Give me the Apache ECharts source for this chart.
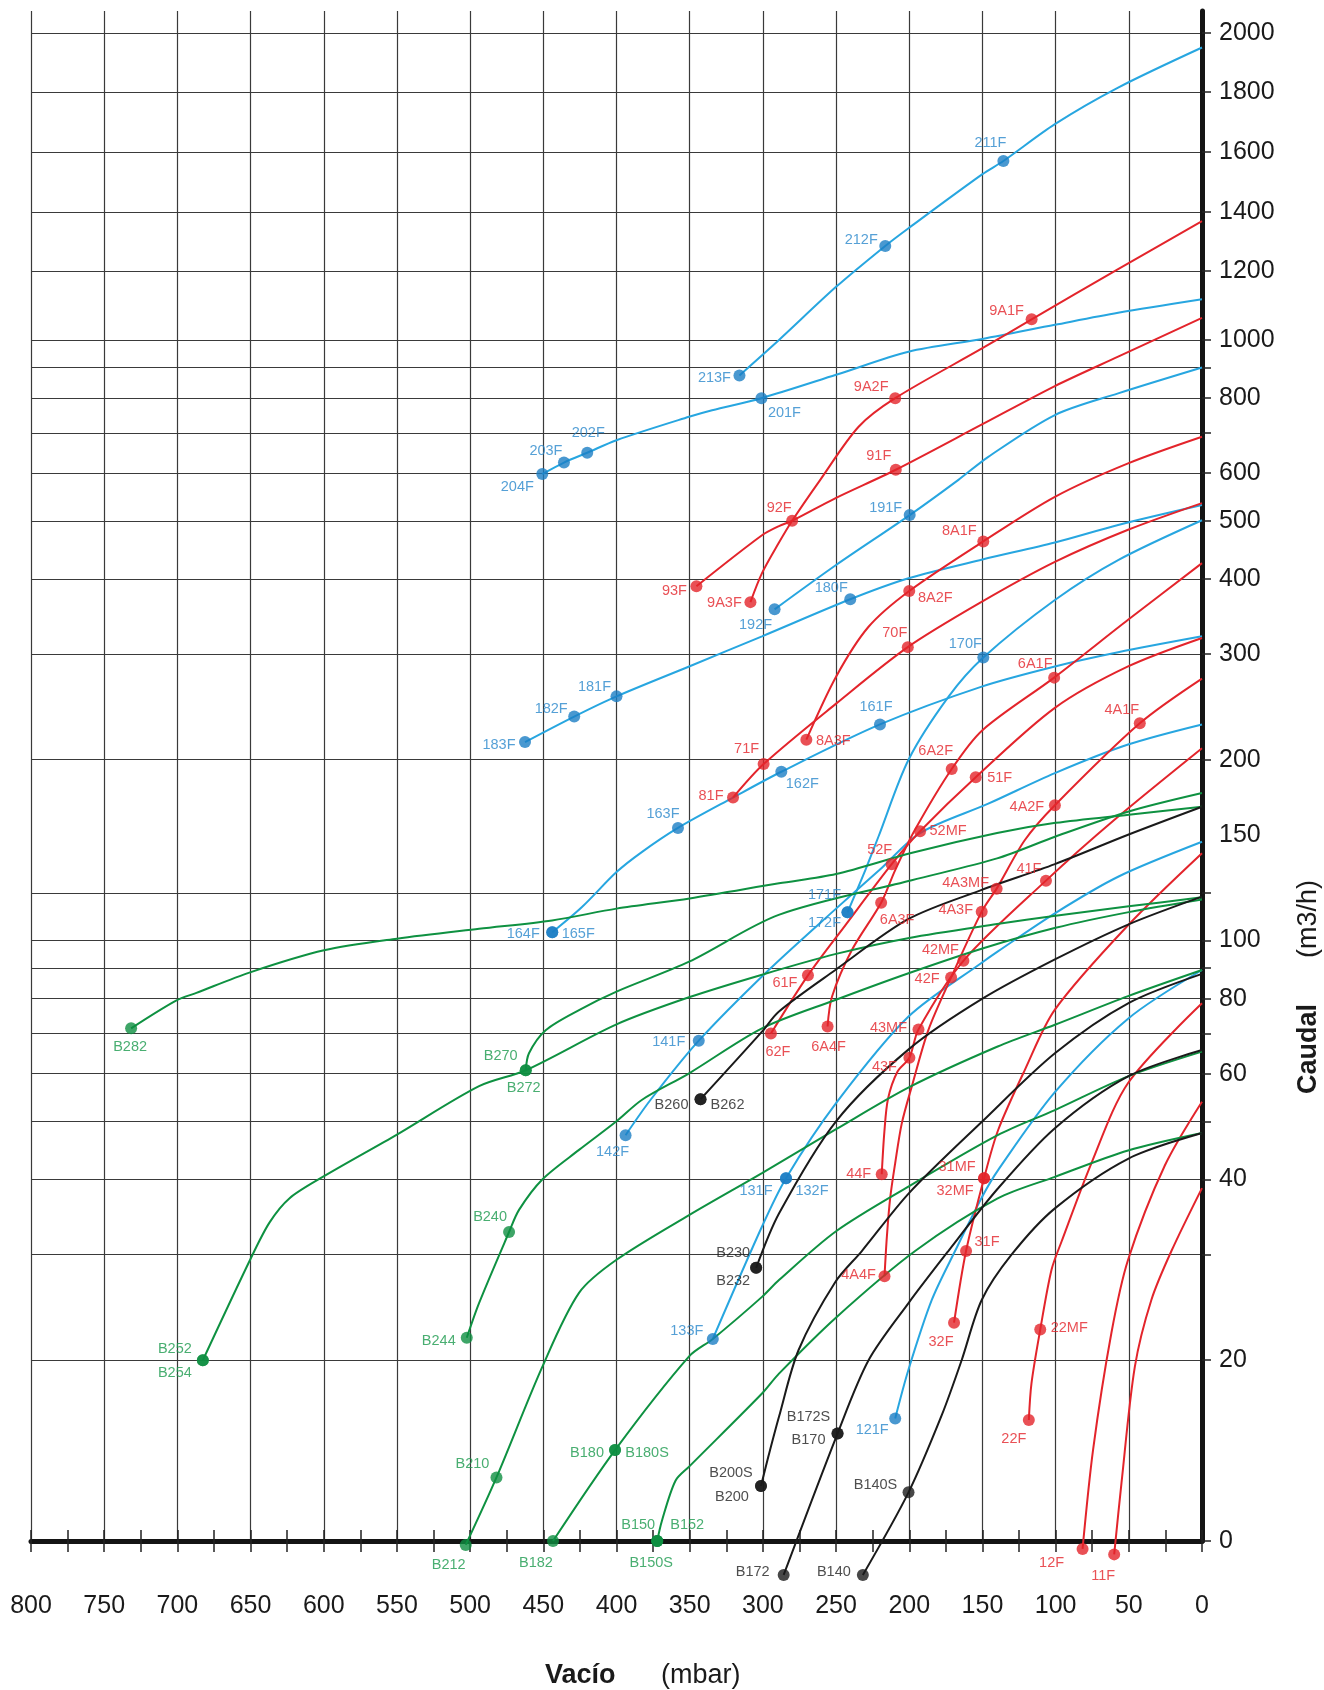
<!DOCTYPE html>
<html><head><meta charset="utf-8">
<script src="https://cdn.jsdelivr.net/npm/echarts@6/dist/echarts.min.js"></script>
<style>html,body{margin:0;padding:0;background:#fff}#c{width:1324px;height:1690px}</style>
</head><body><div id="c"></div>
<script>
// ================= DATA: [vacuum (mbar), flow (m3/h)] =================
// blue family
const c211 = [[316,873],[289,1000],[250,1154],[216.4,1285],[200.5,1345],[150,1526],[135.7,1570],[100.5,1693],[57.3,1815],[0,1951]];
const c201 = [[450.7,598],[435.9,625],[420,649],[400,681],[350.4,745],[334.7,764],[301,800],[250,875],[200.5,956],[150,1003],[100.5,1044],[57.3,1079],[0,1118]];
const c191 = [[292,356],[250,422],[199.7,511],[166.4,585],[146,639],[100.5,750],[57.3,815],[0,900]];
const c180 = [[462.5,214],[428.9,236],[400,255],[350.4,286],[300.6,321],[240.3,370],[200.5,401],[150,431],[100.5,460],[57.3,492],[0,531]];
const c170 = [[242.2,111.4],[230,131],[221,149],[200.5,200],[173,255],[149.4,296],[100.5,369],[57.3,430],[0,501]];
const c160 = [[443.9,103.2],[423.4,113.8],[400,130],[382.5,140.5],[358,154],[320.4,173],[287.4,191],[220,229],[150,265],[100.5,286],[57.3,302],[0,321]];
const c140 = [[393.8,47.4],[376.7,54.3],[343.8,68.1],[296,89.3],[250,113],[220.4,131],[192.6,151],[146,169],[100.5,190],[50.5,212],[0,229]];
const c130 = [[334.2,21.7],[300.6,33.4],[284.2,40.2],[250,53.6],[200.5,74.7],[150,92],[139.2,96],[100.5,111],[57.3,127.7],[0,146]];
const c120 = [[209.6,16.0],[200.5,19.3],[184.6,25.2],[168.7,30.4],[150,37.5],[139.2,41.5],[100.5,55.9],[50.5,74.1],[0,89.3]];
// red family
const c9A = [[308.5,366],[300.6,409],[289.2,459],[280,500],[260.8,585],[234.6,717],[209.6,800],[150,969],[116.4,1060],[57.3,1206],[0,1369]];
const c9  = [[345.4,389],[300.6,473],[289,490],[280,500],[250.6,545],[209.2,608],[150,724],[100.5,838],[57.3,938],[0,1064]];
const c8A = [[270.3,216],[250,275],[227.8,333],[200,382],[149.4,462],[100.5,548],[50.5,623],[0,690]];
const c7  = [[320.4,173],[299.5,196.7],[250,248],[201,308],[150,367],[100.5,427],[50.5,483],[0,535]];
const c6A = [[255.8,71.9],[252.8,80.6],[239.2,96.4],[219.2,115.6],[209.6,131],[196,153],[171,193],[150,224],[101,274],[50.5,342],[0,425]];
const c65 = [[294.5,70],[269.2,87.5],[243.7,106],[212,134],[192.6,152],[154.6,187],[100.5,244],[50.5,286],[0,319]];
const c4A = [[216.9,27.6],[215.3,32.1],[213,37.3],[209.6,42.6],[205.1,49.6],[198.3,57.1],[186.9,71],[171.4,86.8],[150.5,111.7],[140.3,122],[121,147],[100.5,168],[42.5,230],[0,273]];
const c4  = [[218.8,40.8],[217,48],[214.5,54.5],[208,60.5],[199.9,63.8],[193.7,71.1],[163,92.5],[106.6,125.8],[59.6,159],[0,209]];
const c3  = [[169.4,23.1],[161.2,30.4],[148.9,40.2],[139.2,48.4],[121,60.9],[100.5,76.7],[50.5,106],[0,139.7]];
const c2  = [[118.3,15.9],[116.5,18.3],[110.5,22.5],[102.8,28.3],[96,31.5],[75.5,42.6],[50.5,57.9],[0,78.6]];
const c12 = [[81.6,9.7],[74.4,14.2],[61.9,22.2],[50.5,29.4],[25.4,42.2],[0,53.9]];
const c11 = [[60,9.5],[55,12.5],[45.9,19.5],[34.6,25.2],[20.9,30.4],[0,38.7]];
// black family
const cB260 = [[342.6,54.4],[300.6,70.5],[289.2,76.1],[250.5,89.3],[200.5,108.6],[150.5,121.4],[100.5,134],[50.5,150],[0,167]];
const cB230 = [[304.6,28.5],[289,35.1],[250,50],[200,66],[150,80],[100.5,93],[50.5,106.3],[0,118.3]];
const cB200 = [[301.3,12.35],[296,13.9],[289,16.1],[275.6,20.8],[250.5,27],[232.4,30.4],[200,38],[150,50],[100.5,64.9],[50.5,78.6],[0,88]];
const cB170 = [[285.8,8.78],[249,15.1],[227.8,20],[200.5,24.9],[173.3,30.4],[139.6,38.6],[100.5,48.7],[50.5,59.4],[0,65.7]];
const cB140 = [[231.7,8.78],[200.5,12.05],[177.8,16.2],[164.2,20],[150.5,25.2],[130,30],[100.5,35.8],[50.5,43.3],[0,47.8]];
// green family
const cB282 = [[731.6,71.4],[700.9,79.4],[687,81.8],[650.3,88.5],[599.8,96.3],[550,100.7],[493.9,104.6],[444,108],[400,113],[350,117.5],[289,124.5],[250,129],[198,140],[140,151],[100,157],[50,162],[0,167]];
const cB252 = [[682.6,20.0],[650.3,29.4],[637.1,33.9],[623.5,37.2],[599.8,40.5],[550,47.5],[493.9,57.2],[462,60.8],[400,72.5],[350,80.5],[300,87.8],[250,95],[200,101],[140,106.5],[100,110],[50,114],[0,118]];
const cB270 = [[462,60.8],[459.8,64.9],[448.4,70.9],[425.6,76.6],[400,82.2],[350.4,92.2],[289.2,110.3],[198.3,126],[140,137],[100,149],[50,164],[0,176]];
const cB240 = [[502.3,21.8],[493.9,24.9],[473.4,32.7],[466.6,35.6],[450.7,40],[425.6,44.8],[400,50],[382.5,54.3],[350.4,60.1],[300.6,71.4],[250.5,79.6],[200.5,88.2],[150,97],[100,105],[50,111.5],[0,117]];
const cB210 = [[503,9.85],[482,12.76],[450.7,19.5],[425.6,25.9],[400,29.4],[350.4,34.9],[300.6,41],[250,48.5],[200,57],[139.6,66.6],[100.5,72.4],[50.5,80.8],[0,89.3]];
const cB180 = [[443.4,10],[401,14.17],[350.4,20.3],[334.2,21.7],[300.6,25.5],[289,27.2],[250,32.8],[200,39],[139.6,47.4],[100.5,52.2],[50.5,59.4],[0,65.3]];
const cB150 = [[372.2,10],[369,10.8],[359.7,12.6],[350.4,13.3],[300.6,17.6],[289,19.0],[250.5,23.5],[196,30.4],[139.6,37.2],[100.5,40.4],[50.5,44.7],[0,47.8]];

// labelled points: [label, mbar, m3/h]
const bluePoints = [['213F',316,873],['212F',216.4,1285],['211F',135.7,1570],['204F',450.7,598],['203F',435.9,625],['202F',420,649],['201F',301,800],['192F',292,356],['191F',199.7,511],['183F',462.5,214],['182F',428.9,236],['181F',400,255],['180F',240.3,370],['171F',242.2,111.4],['172F',242.2,111.4],['170F',149.4,296],['164F',443.9,103.2],['165F',443.9,103.2],['163F',358,154],['162F',287.4,191],['161F',220,229],['142F',393.8,47.4],['141F',343.8,68.1],['133F',334.2,21.7],['131F',284.2,40.2],['132F',284.2,40.2],['121F',209.6,16.0]];
const redPoints = [['9A1F',116.4,1060],['9A2F',209.6,800],['9A3F',308.5,366],['91F',209.2,608],['92F',280,500],['93F',345.4,389],['8A1F',149.4,462],['8A2F',200,382],['8A3F',270.3,216],['70F',201,308],['71F',299.5,196.7],['81F',320.4,173],['6A1F',101,274],['6A2F',171,193],['6A3F',219.2,115.6],['6A4F',255.8,71.9],['61F',269.2,87.5],['62F',294.5,70],['52F',212,134],['52MF',192.6,152],['51F',154.6,187],['4A1F',42.5,230],['4A2F',100.5,168],['4A3MF',140.3,122],['4A3F',150.5,111.7],['42MF',163,92.5],['42F',171.4,86.8],['43MF',193.7,71.1],['43F',199.9,63.8],['44F',218.8,40.8],['4A4F',216.9,27.6],['41F',106.6,125.8],['31MF',148.9,40.2],['32MF',148.9,40.2],['31F',161.2,30.4],['32F',169.4,23.1],['22MF',110.5,22.5],['22F',118.3,15.9],['12F',81.6,9.7],['11F',60,9.5]];
const greenPoints = [['B282',731.6,71.4],['B252',682.6,20.0],['B254',682.6,20.0],['B270',462,60.8],['B272',462,60.8],['B240',473.4,32.7],['B244',502.3,21.8],['B210',482,12.76],['B212',503,9.85],['B180',401,14.17],['B180S',401,14.17],['B182',443.4,10],['B150',372.2,10],['B152',372.2,10],['B150S',372.2,10]];
const blackPoints = [['B260',342.6,54.4],['B262',342.6,54.4],['B230',304.6,28.5],['B232',304.6,28.5],['B200S',301.3,12.35],['B200',301.3,12.35],['B172S',249,15.1],['B170',249,15.1],['B172',285.8,8.78],['B140S',200.5,12.05],['B140',231.7,8.78]];

// axis ticks / labels (m3/h)
const gridQ  = [10,20,30,40,50,60,70,80,90,100,120,200,300,400,500,600,700,800,900,1000,1200,1400,1600,1800,2000];
const labelQ = [10,20,40,60,80,100,150,200,300,400,500,600,800,1000,1200,1400,1600,1800,2000];
const labelTxt = ['0','20','40','60','80','100','150','200','300','400','500','600','800','1000','1200','1400','1600','1800','2000'];

// ================= SCALE (log below 1000, stretched linear above) =================
const upperKnots = [[1000,3],[1200,3.1149],[1400,3.2132],[1600,3.3131],[1800,3.4130],[2000,3.5112]];
function T(q){
  if (q <= 1000) return Math.log10(q);
  for (let i=1;i<upperKnots.length;i++){
    const a=upperKnots[i-1], b=upperKnots[i];
    if (q <= b[0]) return a[1] + (q-a[0])/(b[0]-a[0])*(b[1]-a[1]);
  }
  const a=upperKnots[upperKnots.length-2], b=upperKnots[upperKnots.length-1];
  return b[1] + (q-b[0])/(b[0]-a[0])*(b[1]-a[1]);
}
const Y_MIN = 1, Y_MAX = 1 + 1530/600.5;

// ================= STYLE / LAYOUT =================
const FONT = "'Liberation Sans',Arial,Helvetica,sans-serif";
const COL = {
  blue:  {line:'#27a6e0', dot:'#1c7ec4', text:'#2a88cc'},
  red:   {line:'#e3242b', dot:'#e3242b', text:'#e3242b'},
  green: {line:'#0e9141', dot:'#0e8f41', text:'#1b9a4d'},
  black: {line:'#1a1a1a', dot:'#1a1a1a', text:'#222222'}
};
const labelOffsets = {
 '213F':[-25,3],'212F':[-24,-6],'211F':[-13,-18],'204F':[-25,13],'203F':[-18,-12],'202F':[1,-20],'201F':[23,15],
 '192F':[-19,16],'191F':[-24,-7],'183F':[-26,3],'182F':[-23,-8],'181F':[-22,-9],'180F':[-19,-11],
 '171F':[-23,-17],'172F':[-23,11],'170F':[-18,-13],'164F':[-29,2],'165F':[26,2],'163F':[-15,-14],'162F':[21,12],'161F':[-4,-17],
 '142F':[-13,17],'141F':[-30,1],'133F':[-26,-8],'131F':[-30,13],'132F':[26,13],'121F':[-23,12],
 '9A1F':[-25,-8],'9A2F':[-24,-11],'9A3F':[-26,1],'91F':[-17,-14],'92F':[-13,-13],'93F':[-22,5],
 '8A1F':[-24,-10],'8A2F':[26,7],'8A3F':[27,1],'70F':[-13,-14],'71F':[-17,-15],'81F':[-22,-2],
 '6A1F':[-19,-14],'6A2F':[-16,-18],'6A3F':[16,17],'6A4F':[1,20],'61F':[-23,8],'62F':[7,18],
 '52F':[-12,-14],'52MF':[28,0],'51F':[24,1],
 '4A1F':[-18,-13],'4A2F':[-28,2],'4A3MF':[-31,-6],'4A3F':[-26,-2],'42MF':[-23,-11],'42F':[-24,2],'43MF':[-30,-1],'43F':[-25,9],'44F':[-23,0],'4A4F':[-26,-1],'41F':[-17,-12],
 '31MF':[-27,-11],'32MF':[-29,13],'31F':[21,-9],'32F':[-13,19],'22MF':[29,-2],'22F':[-15,19],'12F':[-31,14],'11F':[-11,22],
 'B282':[-1,19],'B252':[-28,-11],'B254':[-28,13],'B270':[-25,-14],'B272':[-2,18],'B240':[-19,-15],'B244':[-28,3],
 'B210':[-24,-13],'B212':[-17,20],'B180':[-28,3],'B180S':[32,3],'B182':[-17,22],'B150':[-19,-16],'B152':[30,-16],'B150S':[-6,22],
 'B260':[-29,6],'B262':[27,6],'B230':[-23,-15],'B232':[-23,13],'B200S':[-30,-13],'B200':[-29,11],'B172S':[-29,-17],'B170':[-29,6],
 'B172':[-31,-3],'B140S':[-33,-7],'B140':[-29,-3]
};

const families = [
  {c:'blue',  curves:[c211,c201,c191,c180,c170,c160,c140,c130,c120], points:bluePoints},
  {c:'red',   curves:[c9A,c9,c8A,c7,c6A,c65,c4A,c4,c3,c2,c12,c11], points:redPoints},
  {c:'green', curves:[cB282,cB252,cB270,cB240,cB210,cB180,cB150], points:greenPoints},
  {c:'black', curves:[cB260,cB230,cB200,cB170,cB140], points:blackPoints}
];

const series = [];
families.forEach(f => {
  f.curves.forEach(cv => {
    series.push({
      type:'line', clip:false, silent:true, smooth:0.3, symbol:'none', z:2,
      lineStyle:{color:COL[f.c].line, width:2},
      data: cv.map(p => [p[0], T(p[1])])
    });
  });
});
families.forEach(f => {
  series.push({
    type:'scatter', clip:false, z:5, symbol:'circle', symbolSize:12,
    itemStyle:{color:COL[f.c].dot},
    label:{show:true, position:'inside', formatter:p=>p.name, color:COL[f.c].text,
           fontSize:14.5, fontFamily:FONT, align:'center', verticalAlign:'middle'},
    data: f.points.map(p => ({name:p[0], value:[p[1], T(p[2])],
           label:{offset: labelOffsets[p[0]] || [0,0]}}))
  });
});

const gridT  = gridQ.map(T);
const labelT = labelQ.map(T);
function labelFor(v){
  let best=0, d=1e9;
  labelT.forEach((t,i)=>{ const dd=Math.abs(t-v); if(dd<d){d=dd;best=i;} });
  return labelTxt[best];
}

const chart = echarts.init(document.getElementById('c'), null, {renderer:'canvas'});
chart.setOption({
  animation:false,
  backgroundColor:'#ffffff',
  grid:{left:31, right:122, top:11, bottom:149, containLabel:false},
  xAxis:[
    {type:'value', inverse:true, min:0, max:800, interval:50, position:'bottom',
     axisLine:{show:true, onZero:false, lineStyle:{color:'#141414', width:5}},
     axisTick:{show:true, length:11, lineStyle:{color:'#222', width:1.5}},
     minorTick:{show:true, splitNumber:2, length:11, lineStyle:{color:'#222', width:1.5}},
     axisLabel:{fontSize:25, fontFamily:FONT, color:'#1a1a1a', margin:53},
     splitLine:{show:true, lineStyle:{color:'#3a3a3a', width:1.2}}},
    {type:'value', inverse:true, min:0, max:800, interval:50, position:'bottom',
     axisLine:{show:false, onZero:false},
     axisTick:{show:true, inside:true, length:11, lineStyle:{color:'#222', width:1.5}},
     minorTick:{show:true, splitNumber:2, length:11, lineStyle:{color:'#222', width:1.5}},
     axisLabel:{show:false}, splitLine:{show:false}}
  ],
  yAxis:{type:'value', position:'right', min:Y_MIN, max:Y_MAX,
     axisLine:{show:true, onZero:false, lineStyle:{color:'#141414', width:5}},
     axisTick:{show:true, customValues:gridT, length:9, lineStyle:{color:'#222', width:1.5}},
     axisLabel:{show:true, customValues:labelT, formatter:v=>labelFor(v), fontSize:25, fontFamily:FONT, color:'#1a1a1a', margin:17},
     splitLine:{show:true, lineStyle:{color:'#3a3a3a', width:1.2}}},
  graphic:[
    {type:'text', left:545, top:1662, style:{text:'Vacío', font:"bold 27px 'Liberation Sans',Arial,sans-serif", fill:'#1a1a1a'}},
    {type:'text', left:661, top:1662, style:{text:'(mbar)', font:"27px 'Liberation Sans',Arial,sans-serif", fill:'#1a1a1a'}},
    {type:'text', x:1309, y:1049, rotation:Math.PI/2, style:{text:'Caudal', font:"bold 27px 'Liberation Sans',Arial,sans-serif", fill:'#1a1a1a', align:'center', verticalAlign:'middle'}},
    {type:'text', x:1309, y:919, rotation:Math.PI/2, style:{text:'(m3/h)', font:"27px 'Liberation Sans',Arial,sans-serif", fill:'#1a1a1a', align:'center', verticalAlign:'middle'}}
  ],
  series: series.map(s => Object.assign({xAxisIndex:0, yAxisIndex:0}, s))
});
</script>
</body></html>
